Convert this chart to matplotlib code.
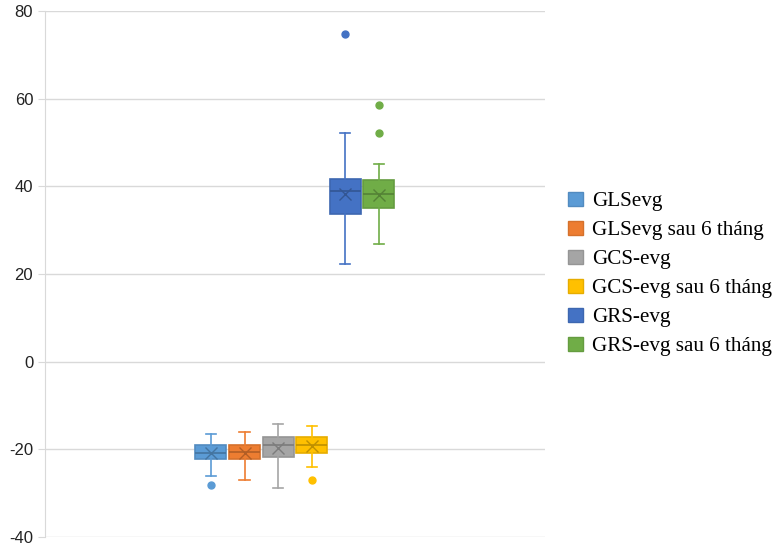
import matplotlib
matplotlib.use("Agg")
import matplotlib.pyplot as plt
from matplotlib.patches import Patch
import matplotlib.colors as mcolors

plt.rcParams["axes.unicode_minus"] = False

series = ["GLSevg", "GLSevg sau 6 tháng", "GCS-evg", "GCS-evg sau 6 tháng", "GRS-evg", "GRS-evg sau 6 tháng"]
colors = ["#5B9BD5", "#ED7D31", "#A5A5A5", "#FFC000", "#4472C4", "#70AD47"]
whislo = [-26.1, -26.9, -28.9, -24.1, 22.3, 26.8]
q1 = [-22.3, -22.3, -21.8, -20.9, 33.7, 35.1]
med = [-20.8, -20.7, -19.0, -19.0, 38.9, 38.3]
q3 = [-19.0, -19.0, -17.1, -17.1, 41.7, 41.5]
whishi = [-16.6, -16.1, -14.3, -14.6, 52.2, 45.2]
means = [-20.9, -20.8, -19.6, -19.2, 38.2, 38.1]
fliers = [[-28.1], [], [], [-27.0], [74.8], [58.6, 52.2]]
yticks = [-40, -20, 0, 20, 40, 60, 80]

def darker(c, f=0.75):
    r, g, b = mcolors.to_rgb(c)
    return (r * f, g * f, b * f)

fig = plt.figure(figsize=(7.76, 5.48), dpi=100)
ax = fig.add_axes([0.058, 0.02, 0.644, 0.96])

for i in range(len(series)):
    st = [dict(whislo=whislo[i], q1=q1[i], med=med[i], q3=q3[i], whishi=whishi[i],
               mean=means[i], fliers=fliers[i], label=series[i])]
    c = colors[i]
    d = darker(c)
    ax.bxp(st, positions=[i + 1], widths=0.92, patch_artist=True, showmeans=True,
           capwidths=0.3,
           boxprops=dict(facecolor=c, edgecolor=darker(c, 0.9), linewidth=1.2),
           medianprops=dict(color=d, linewidth=1.2),
           whiskerprops=dict(color=c, linewidth=1.2),
           capprops=dict(color=c, linewidth=1.2),
           meanprops=dict(marker="x", markeredgecolor=d, markersize=9, markeredgewidth=1.0),
           flierprops=dict(marker="o", markerfacecolor=c, markeredgecolor=c, markersize=5))

ax.set_xlim(3.5 - 7.44, 3.5 + 7.44)
ax.set_ylim(-40, 80)
ax.set_yticks(yticks)
ax.set_xticks([])
ax.grid(axis="y", color="#d9d9d9", linewidth=1.0)
ax.set_axisbelow(True)
for s in ["top", "right", "bottom"]:
    ax.spines[s].set_visible(False)
ax.spines["left"].set_color("#d9d9d9")
ax.tick_params(axis="y", colors="#d9d9d9", length=5, labelcolor="#222222", labelsize=12)
for lab in ax.get_yticklabels():
    lab.set_fontfamily("Liberation Sans")

handles = [Patch(facecolor=c, edgecolor=darker(c, 0.9), label=s) for c, s in zip(colors, series)]
fig.legend(handles=handles, loc="center left", bbox_to_anchor=(0.708, 0.5), frameon=False,
           prop=dict(family="Liberation Serif", size=15.2), handlelength=0.68, handleheight=0.68,
           handletextpad=0.42, labelspacing=0.44)

fig.savefig("out.png", dpi=100)
